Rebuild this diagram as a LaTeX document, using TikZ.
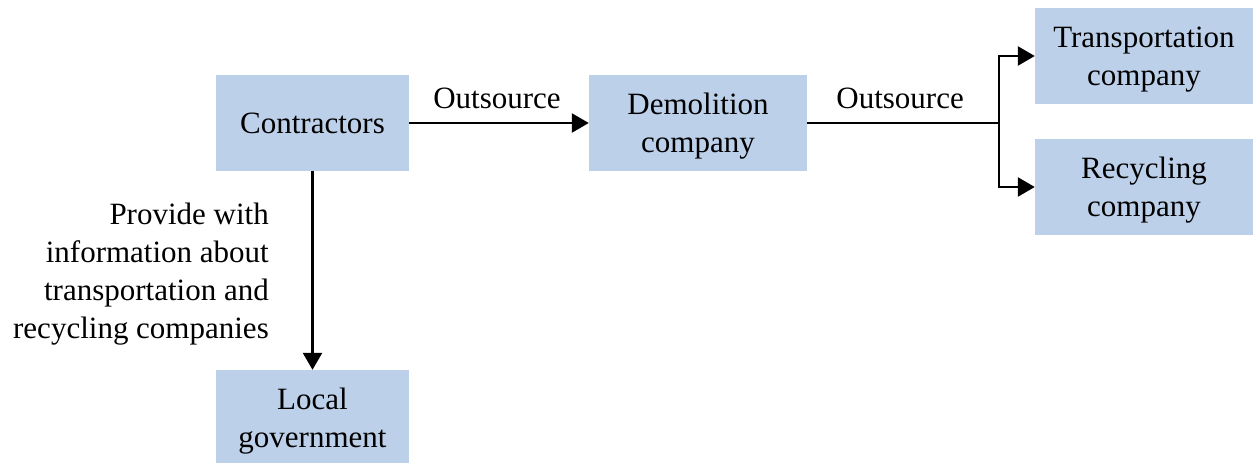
\documentclass[tikz,border=0pt]{standalone}
\usepackage{fontspec}
\setmainfont{Liberation Serif}
\usetikzlibrary{arrows.meta}
\definecolor{boxfill}{RGB}{189,208,233}
% taller first line, sets the two-line captions a little lower in their boxes
\newcommand\firstline{\rule{0pt}{27pt}}
\begin{document}
\begin{tikzpicture}[x=1pt,y=-1pt,
  every node/.style={font=\fontsize{31}{38}\selectfont, inner sep=0pt},
  entity/.style={rectangle, fill=boxfill, align=center, minimum height=96pt},
  narrow/.style={entity, minimum width=193pt},
  wide/.style={entity, minimum width=218pt},
  flow/.style={line width=2.4pt, -{Triangle[length=17pt,width=19pt]}},
  plain/.style={line width=2.4pt},
  edgelabel/.style={anchor=base, yshift=15pt}]
\useasboundingbox (0,0) rectangle (1256,463);

% organisations
\node[narrow] (con) at (312.5,123) {Contractors};
\node[wide]   (dem) at (698,123) {\firstline Demolition\\company};
\node[wide]   (tra) at (1144,56) {\firstline Transportation\\company};
\node[wide]   (rec) at (1144,187) {\firstline Recycling\\company};
\node[narrow] (loc) at (312.5,418) {\firstline Local\\government};

% relations
\draw[flow] (con.east) -- node[edgelabel, xshift=-2pt] (o1) {Outsource} (dem.west);
\coordinate (br) at (999,123);
\draw[plain] (dem.east) -- node[edgelabel, xshift=-3pt] (o2) {Outsource} (br);
\draw[flow] (br) |- (tra.west);
\draw[flow] (br) |- (rec.west);
\draw[flow] (con.south) -- (loc.north);
\node[anchor=east, align=right] (info) at (269,274)
  {Provide with\\information about\\transportation and\\recycling companies};
\end{tikzpicture}
\end{document}
